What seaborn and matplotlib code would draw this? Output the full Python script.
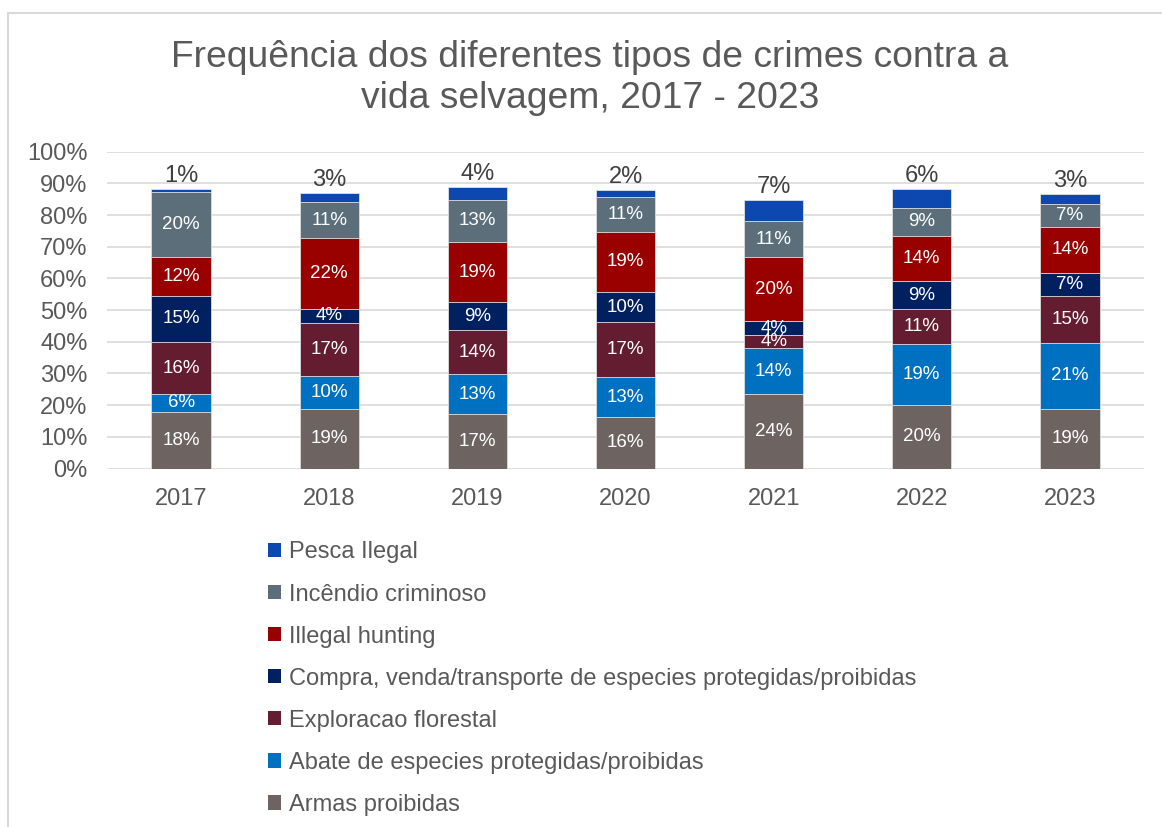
import numpy as np
import pandas as pd
import seaborn as sns
import matplotlib.pyplot as plt
from matplotlib.patches import Patch
from matplotlib.lines import Line2D

# =====================
# Data (% of total)
# =====================
years = ["2017", "2018", "2019", "2020", "2021", "2022", "2023"]

armas = [17.9, 18.9, 17.1, 16.1, 23.6, 20.0, 18.9]
abate = [5.6, 10.2, 12.7, 12.8, 14.3, 19.2, 20.7]
exploracao = [16.3, 16.9, 13.9, 17.2, 4.2, 11.1, 14.8]
compra = [14.8, 4.4, 8.7, 9.7, 4.4, 8.9, 7.4]
hunting = [12.3, 22.3, 19.2, 18.9, 20.2, 14.3, 14.4]
incendio = [20.3, 11.4, 13.2, 11.1, 11.4, 8.8, 7.4]
pesca = [0.9, 2.9, 4.0, 2.1, 6.8, 5.9, 3.2]

series_names = [
    "Armas proibidas",
    "Abate de especies protegidas/proibidas",
    "Exploracao florestal",
    "Compra, venda/transporte de especies protegidas/proibidas",
    "Illegal hunting",
    "Incêndio criminoso",
    "Pesca Ilegal",
]
colors = ["#6D6462", "#0070C0", "#631C30", "#002060", "#990000", "#5B6E7A", "#0D47B0"]

df = pd.DataFrame(
    dict(zip(series_names, [armas, abate, exploracao, compra, hunting, incendio, pesca])),
    index=years,
)
cum = df.cumsum(axis=1)
bottoms = cum - df

plt.rcParams["font.family"] = ["Liberation Sans", "DejaVu Sans"]
text_col = "#595959"

fig = plt.figure(figsize=(11.62, 8.27), dpi=100)
ax = fig.add_axes([107 / 1162, 1 - 468.5 / 827, (1144 - 107) / 1162, (468.5 - 151.7) / 827])

# stacked bars: draw the cumulative totals from the top down
for name, col in reversed(list(zip(series_names, colors))):
    sns.barplot(
        x=years, y=cum[name].values, color=col, width=0.4, saturation=1,
        edgecolor="#E0E0E0", linewidth=0.6, ax=ax, zorder=3,
    )

# segment labels
for i, yr in enumerate(years):
    for name in series_names[:-1]:
        v = df.loc[yr, name]
        ax.text(i, bottoms.loc[yr, name] + v / 2, f"{v:.0f}%", ha="center", va="center",
                color="white", fontsize=13.5, zorder=5)
    top = cum.loc[yr, series_names[-1]]
    ax.text(i, top + 0.6, f"{df.loc[yr, series_names[-1]]:.0f}%", ha="center", va="bottom",
            color="#404040", fontsize=17, zorder=5)

ax.set_ylim(0, 100)
ax.set_xlim(-0.5, len(years) - 0.5)
ax.set_yticks(np.arange(0, 101, 10))
ax.set_yticklabels([f"{t}%" for t in range(0, 101, 10)])
ax.grid(axis="y", color="#D9D9D9", linewidth=1.2, zorder=0)
ax.set_axisbelow(True)
for s in ax.spines.values():
    s.set_visible(False)
ax.tick_params(length=0, labelsize=17, colors=text_col)
ax.tick_params(axis="y", pad=14)
ax.tick_params(axis="x", pad=14)
ax.set_xlabel("")
ax.set_ylabel("")

fig.text(590 / 1162, 1 - 78 / 827,
         "Frequência dos diferentes tipos de crimes contra a\nvida selvagem, 2017 - 2023",
         ha="center", va="center", fontsize=26.8, color=text_col, linespacing=1.19)

handles = [Patch(facecolor=c, edgecolor="none") for c in colors][::-1]
fig.legend(handles, series_names[::-1], loc="upper left",
           bbox_to_anchor=(259 / 1162, 1 - 532 / 827), frameon=False,
           fontsize=17, labelcolor=text_col, handlelength=0.55, handleheight=0.55,
           handletextpad=0.3, labelspacing=0.85, borderaxespad=0)

# chart frame
fig.add_artist(Line2D([8 / 1162, 8 / 1162], [0, 1 - 13 / 827], color="#D9D9D9",
                      linewidth=1.5, transform=fig.transFigure))
fig.add_artist(Line2D([8 / 1162, 1], [1 - 13 / 827, 1 - 13 / 827], color="#D9D9D9",
                      linewidth=1.5, transform=fig.transFigure))

fig.savefig("out.png", dpi=100)
